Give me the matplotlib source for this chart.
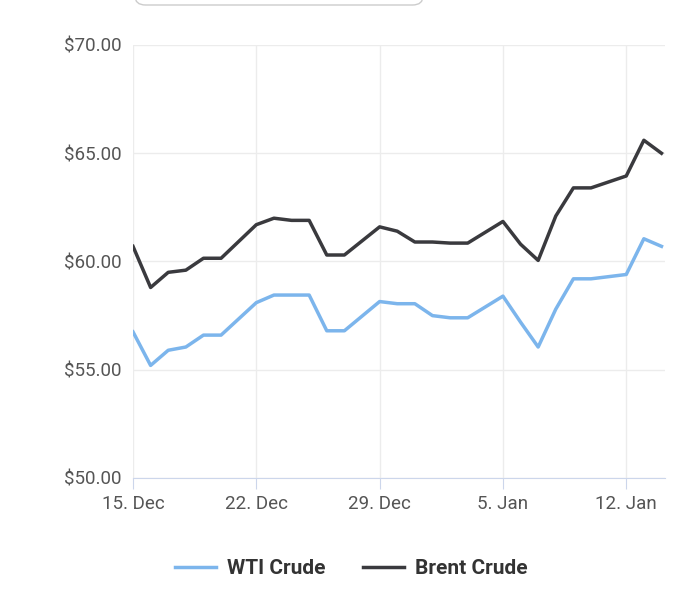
import datetime as dt

import matplotlib
matplotlib.use("Agg")
import matplotlib.pyplot as plt
from matplotlib.patches import FancyBboxPatch

plt.rcParams["font.family"] = ["Roboto", "DejaVu Sans"]

# ── Data ─────────────────────────────────────────────────────────────
dates = ["2025-12-15", "2025-12-16", "2025-12-17", "2025-12-18", "2025-12-19",
         "2025-12-20", "2025-12-22", "2025-12-23", "2025-12-24", "2025-12-25",
         "2025-12-26", "2025-12-27", "2025-12-29", "2025-12-30", "2025-12-31",
         "2026-01-01", "2026-01-02", "2026-01-03", "2026-01-05", "2026-01-06",
         "2026-01-07", "2026-01-08", "2026-01-09", "2026-01-10", "2026-01-12",
         "2026-01-13", "2026-01-14"]
wti = [56.75, 55.2, 55.9, 56.05, 56.6, 56.6, 58.1, 58.45, 58.45, 58.45,
       56.8, 56.8, 58.15, 58.05, 58.05, 57.5, 57.4, 57.4, 58.4, 57.2,
       56.05, 57.8, 59.2, 59.2, 59.4, 61.05, 60.7]
brent = [60.7, 58.8, 59.5, 59.6, 60.15, 60.15, 61.7, 62.0, 61.9, 61.9,
         60.3, 60.3, 61.6, 61.4, 60.9, 60.9, 60.85, 60.85, 61.85, 60.8,
         60.05, 62.1, 63.4, 63.4, 63.95, 65.6, 65.0]
tick_dates = ["2025-12-15", "2025-12-22", "2025-12-29", "2026-01-05", "2026-01-12"]
tick_labels = ["15. Dec", "22. Dec", "29. Dec", "5. Jan", "12. Jan"]
y_ticks = [50, 55, 60, 65, 70]

x = [dt.datetime.fromisoformat(d) for d in dates]

fig = plt.figure(figsize=(7, 6.03), dpi=100)
ax = fig.add_axes([133 / 700, 125 / 603, 532 / 700, 433 / 603])

ax.plot(x, wti, color="#7cb5ec", lw=2.5, label="WTI Crude", solid_joinstyle="round")
ax.plot(x, brent, color="#3a3a3e", lw=2.5, label="Brent Crude", solid_joinstyle="round")

ax.set_ylim(50, 70)
ax.set_xlim(x[0], x[0] + dt.timedelta(days=30.2))
ax.set_yticks(y_ticks)
ax.set_yticklabels([f"${v:.2f}" for v in y_ticks])
ax.set_xticks([dt.datetime.fromisoformat(d) for d in tick_dates])
ax.set_xticklabels(tick_labels)
ax.tick_params(axis="y", length=0, pad=8, labelsize=13.5, labelcolor="#555555")
ax.tick_params(axis="x", length=8, color="#ccd6eb", pad=4, labelsize=13.5, labelcolor="#555555")
ax.grid(True, color="#ececec", lw=1)
for s in ["top", "right", "left"]:
    ax.spines[s].set_visible(False)
ax.spines["bottom"].set_color("#ccd6eb")

ax.legend(loc="center", bbox_to_anchor=(0.41, -0.21), ncol=2, frameon=False,
          prop={"size": 15, "weight": "bold"}, handlelength=2, handletextpad=0.5,
          columnspacing=1.8, labelcolor="#333333")

# partially visible rounded box at the top
fig.patches.append(FancyBboxPatch((135 / 700, 598 / 603), 288 / 700, 0.05,
                                  boxstyle="round,pad=0,rounding_size=0.015",
                                  transform=fig.transFigure, fc="white",
                                  ec="#cccccc", lw=1))

fig.savefig("out.png", dpi=100)
